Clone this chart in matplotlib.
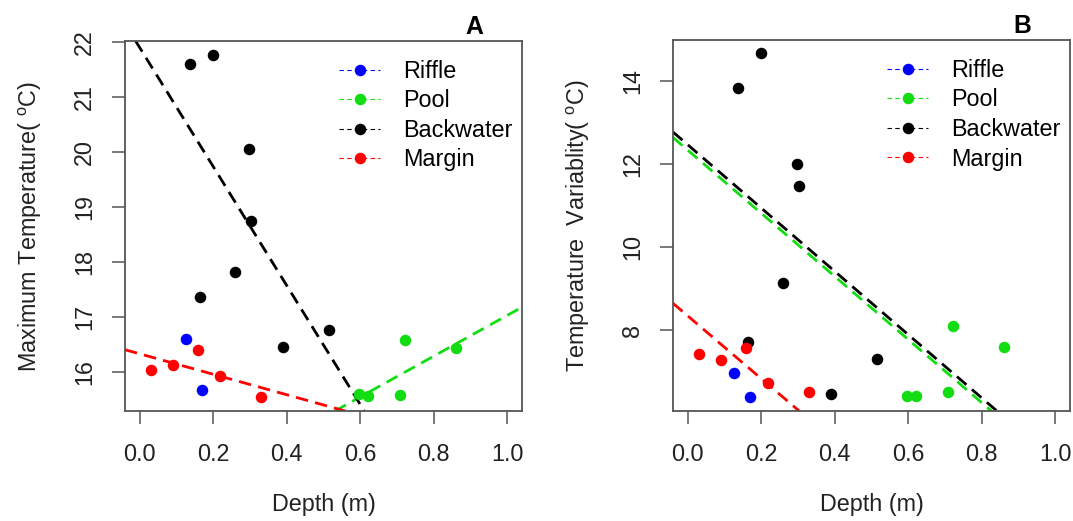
import matplotlib
matplotlib.use("Agg")
import matplotlib.pyplot as plt
from matplotlib.lines import Line2D

plt.rcParams['font.family'] = ['Liberation Sans', 'DejaVu Sans']
plt.rcParams['mathtext.fontset'] = 'custom'
plt.rcParams['mathtext.rm'] = 'Liberation Sans'

# ---------------- data ----------------
habitats = ["Riffle", "Pool", "Backwater", "Margin"]
colors = {"Riffle": "#0000FF", "Pool": "#12DD12", "Backwater": "#000000", "Margin": "#FF0000"}

depth_riffle = [0.127, 0.169]
depth_pool = [0.596, 0.621, 0.709, 0.723, 0.860]
depth_back = [0.137, 0.199, 0.297, 0.304, 0.260, 0.163, 0.391, 0.516]
depth_margin = [0.032, 0.090, 0.159, 0.219, 0.329]

maxT_riffle = [16.60, 15.67]
maxT_pool = [15.60, 15.57, 15.59, 16.59, 16.44]
maxT_back = [21.60, 21.77, 20.06, 18.74, 17.82, 17.37, 16.45, 16.76]
maxT_margin = [16.04, 16.13, 16.40, 15.92, 15.54]

var_riffle = [6.97, 6.39]
var_pool = [6.43, 6.42, 6.51, 8.10, 7.61]
var_back = [13.84, 14.67, 12.00, 11.48, 9.14, 7.72, 6.47, 7.31]
var_margin = [7.44, 7.29, 7.57, 6.73, 6.51]

# fitted regression lines (intercept, slope)
fitA_habitats = ["Pool", "Backwater", "Margin"]
fitA_intercept = [13.32, 21.90, 16.33]
fitA_slope = [3.71, -10.82, -1.86]

fitB_habitats = ["Pool", "Backwater", "Margin"]
fitB_intercept = [12.34, 12.47, 8.35]
fitB_slope = [-7.60, -7.62, -7.55]

xticks = [0.0, 0.2, 0.4, 0.6, 0.8, 1.0]
yticksA = [16, 17, 18, 19, 20, 21, 22]
yticksB = [8, 10, 12, 14]

depths = {"Riffle": depth_riffle, "Pool": depth_pool, "Backwater": depth_back, "Margin": depth_margin}
valsA = {"Riffle": maxT_riffle, "Pool": maxT_pool, "Backwater": maxT_back, "Margin": maxT_margin}
valsB = {"Riffle": var_riffle, "Pool": var_pool, "Backwater": var_back, "Margin": var_margin}

# ---------------- figure ----------------
W, H = 1073, 521
fig = plt.figure(figsize=(W / 100, H / 100), dpi=100)
FS = 16.8
frame_col = "#555555"


def px_axes(l, r, t, b):
    return [l / W, (H - b) / H, (r - l) / W, (b - t) / H]


def setup(ax, ylim, yticks, ylabel, title):
    ax.set_xlim(-0.04, 1.04)
    ax.set_ylim(*ylim)
    ax.set_xticks(xticks)
    ax.set_xticklabels([f"{v:.1f}" for v in xticks])
    ax.set_yticks(yticks)
    ax.set_yticklabels([str(v) for v in yticks], rotation=90, va='center')
    ax.tick_params(direction='out', length=9.7, width=1.1, color=frame_col,
                   labelsize=FS, labelcolor='#222222')
    ax.tick_params(axis='x', pad=13)
    ax.tick_params(axis='y', pad=11)
    for s in ax.spines.values():
        s.set_color(frame_col)
        s.set_linewidth(1.3)
    ax.set_xlabel("Depth (m)", fontsize=FS, color='#222222')
    ax.xaxis.set_label_coords(0.5, -0.222)
    ax.set_ylabel(ylabel, fontsize=FS, color='#222222')
    ax.yaxis.set_label_coords(-0.205, 0.5)
    ax.text(0.88, 1.038, title, transform=ax.transAxes, ha='center', va='center',
            fontsize=FS + 1, fontweight='bold')


def draw(ax, vals, fit_h, fit_i, fit_s):
    for h, a, b in zip(fit_h, fit_i, fit_s):
        ax.axline((0, a), slope=b, color=colors[h], lw=2.0, ls=(0, (4.5, 2.6)), zorder=2)
    for h in habitats:
        ax.plot(depths[h], vals[h], 'o', color=colors[h], ms=8.3, mec='none', zorder=3)
    handles = [Line2D([0], [0], color=colors[h], lw=0.8, ls=(0, (4, 3)), marker='o',
                      ms=8.3, mfc=colors[h], mec='none') for h in habitats]
    ax.legend(handles, habitats, loc='upper left', bbox_to_anchor=(0.54, 0.949),
              frameon=False, fontsize=FS, handlelength=1.75, handletextpad=1.0,
              labelspacing=0.28, borderaxespad=0, borderpad=0)


axA = fig.add_axes(px_axes(125, 522, 41, 411))
draw(axA, valsA, fitA_habitats, fitA_intercept, fitA_slope)
setup(axA, (15.29, 22.02), yticksA, r"Maximum Temperature( $^{\mathrm{o}}$C)", "A")

axB = fig.add_axes(px_axes(673, 1070, 40, 411))
draw(axB, valsB, fitB_habitats, fitB_intercept, fitB_slope)
setup(axB, (6.06, 14.99), yticksB, r"Temperature  Variablity( $^{\mathrm{o}}$C)", "B")

fig.savefig("out.png", dpi=100)
